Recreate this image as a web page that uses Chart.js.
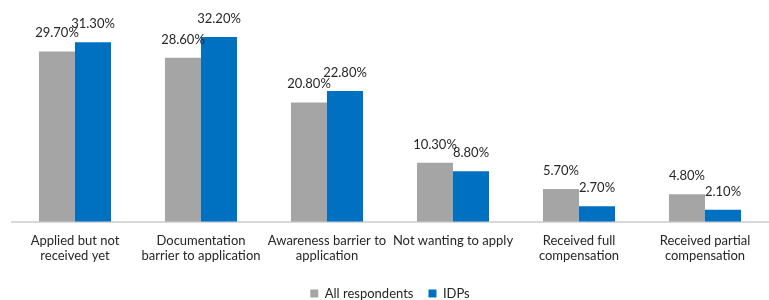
<!DOCTYPE html>
<html>
<head>
<meta charset="utf-8">
<script src="https://cdn.jsdelivr.net/npm/chart.js@4"></script>
<style>
  html, body { margin: 0; padding: 0; background: #fff; }
  #wrap { width: 769px; height: 300px; }
</style>
</head>
<body>
<div id="wrap"><canvas id="chart"></canvas></div>
<script>
var categories = [
  ['Applied but not', 'received yet'],
  ['Documentation', 'barrier to application'],
  ['Awareness barrier to', 'application'],
  ['Not wanting to apply'],
  ['Received full', 'compensation'],
  ['Received partial', 'compensation']
];
var allRespondents = [29.7, 28.6, 20.8, 10.3, 5.7, 4.8];
var idps = [31.3, 32.2, 22.8, 8.8, 2.7, 2.1];

var valueLabels = {
  id: 'valueLabels',
  afterDatasetsDraw: function (chart) {
    var ctx = chart.ctx;
    ctx.save();
    ctx.font = '13px Lato';
    ctx.fillStyle = '#262626';
    ctx.textAlign = 'center';
    ctx.textBaseline = 'alphabetic';
    chart.data.datasets.forEach(function (ds, i) {
      chart.getDatasetMeta(i).data.forEach(function (bar, j) {
        ctx.fillText(ds.data[j].toFixed(2) + '%', bar.x, bar.y - 14);
      });
    });
    ctx.restore();
  }
};

new Chart(document.getElementById('chart'), {
  type: 'bar',
  data: {
    labels: categories,
    datasets: [
      { label: 'All respondents', data: allRespondents, backgroundColor: '#A5A5A5' },
      { label: 'IDPs', data: idps, backgroundColor: '#0070C0' }
    ]
  },
  options: {
    responsive: true,
    maintainAspectRatio: false,
    animation: false,
    datasets: { bar: { barPercentage: 1, categoryPercentage: 0.572 } },
    layout: { padding: { top: 21, left: 12, right: 1, bottom: -10 } },
    scales: {
      x: {
        grid: { display: false },
        border: { display: true, color: '#D9D9D9', width: 2 },
        ticks: { color: '#262626', font: { family: 'Lato', size: 13 }, maxRotation: 0, autoSkip: false, padding: 3 },
        afterFit: function (scale) { scale.height += 5; }
      },
      y: { display: false, min: 0, max: 35 }
    },
    plugins: {
      legend: {
        position: 'bottom',
        labels: { boxWidth: 8, boxHeight: 8, color: '#262626', font: { family: 'Lato', size: 13 }, padding: 15 }
      },
      tooltip: { enabled: false }
    }
  },
  plugins: [valueLabels]
});
</script>
</body>
</html>
